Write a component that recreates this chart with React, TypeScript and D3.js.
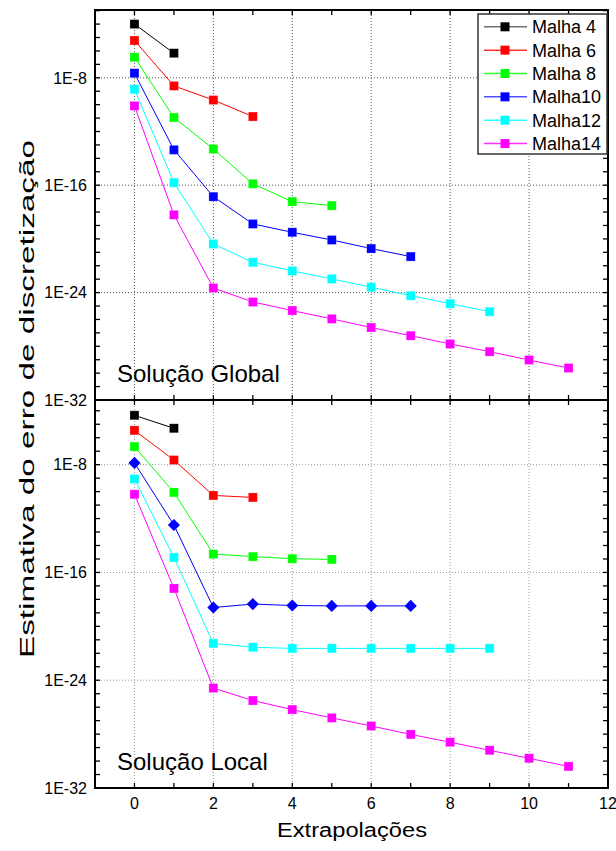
import React from 'react';
import * as d3 from 'd3';

// ---------- data ----------
const seriesNames = ['Malha 4', 'Malha 6', 'Malha 8', 'Malha10', 'Malha12', 'Malha14'];
const seriesColors = ['#000000', '#ff0000', '#00ff00', '#0000ff', '#00ffff', '#ff00ff'];
const legendLineColors = ['#707070', '#ff3030', '#30ff30', '#5050ff', '#30ffff', '#ff30ff'];

const xTickValues = [0, 2, 4, 6, 8, 10, 12];
const yLabelExponents = [-8, -16, -24, -32];

// Solução Global
const globalM4 = [1e-4, 6.8e-7];
const globalM6 = [6.0e-6, 2.5e-9, 2.2e-10, 1.3e-11];
const globalM8 = [3.4e-7, 1.1e-11, 5.0e-14, 1.26e-16, 6.0e-18, 3.0e-18];
const globalM10 = [2.2e-8, 4.3e-14, 1.4e-17, 1.3e-19, 3.1e-20, 8.3e-21, 1.9e-21, 4.8e-22];
const globalM12 = [1.4e-9, 1.55e-16, 4.2e-21, 1.8e-22, 4.1e-23, 1.05e-23, 2.5e-24, 5.9e-25, 1.5e-25, 3.8e-26];
const globalM14 = [8.1e-11, 6.2e-19, 2.2e-24, 2.0e-25, 4.6e-26, 1.1e-26, 2.5e-27, 6.2e-28, 1.5e-28, 4.0e-29, 9.5e-30, 2.4e-30];

// Solução Local
const localM4 = [4.6e-5, 5.0e-6];
const localM6 = [3.5e-6, 2.2e-8, 5.2e-11, 3.7e-11];
const localM8 = [2.2e-7, 8.7e-11, 2.3e-15, 1.5e-15, 1.05e-15, 9.3e-16];
const localM10 = [1.35e-8, 3.3e-13, 2.5e-19, 4.5e-19, 3.5e-19, 3.3e-19, 3.3e-19, 3.3e-19];
const localM12 = [8.7e-10, 1.3e-15, 5.4e-22, 2.8e-22, 2.3e-22, 2.3e-22, 2.3e-22, 2.3e-22, 2.3e-22, 2.3e-22];
const localM14 = [6.3e-11, 6.5e-18, 2.6e-25, 3.1e-26, 6.6e-27, 1.6e-27, 4.0e-28, 9.5e-29, 2.5e-29, 6.3e-30, 1.6e-30, 4.0e-31];

const globalSeries = [globalM4, globalM6, globalM8, globalM10, globalM12, globalM14];
const localSeries = [localM4, localM6, localM8, localM10, localM12, localM14];

// ---------- layout ----------
const W = 616;
const H = 851;
const FONT = "'Liberation Sans', Arial, sans-serif";
const x = d3.scaleLinear().domain([-1, 12]).range([95, 608]);

const yGlobal = d3.scaleLog().domain([1e-32, Math.pow(10, -2.95)]).range([400, 10]);
const yLocal = d3.scaleLog().domain([1e-32, Math.pow(10, -3.2)]).range([788, 400]);

type PanelProps = {
  series: number[][];
  y: d3.ScaleLogarithmic<number, number>;
  label: string;
  diamondIndex: number;
  gridColor: string;
};

function Panel({ series, y, label, diamondIndex, gridColor }: PanelProps) {
  const [y0, y1] = y.range(); // bottom, top
  const [x0, x1] = x.range();
  const decades = d3.range(-32, Math.floor(Math.log10(y.domain()[1])) + 1);
  const intTicks = d3.range(-1, 13);
  const line = d3
    .line<number>()
    .x((_, i) => x(i))
    .y((d) => y(d));
  return (
    <g>
      {/* grid */}
      {yLabelExponents
        .filter((e) => e > -32)
        .map((e) => (
          <line
            key={'hg' + e}
            x1={x0}
            x2={x1}
            y1={y(Math.pow(10, e))}
            y2={y(Math.pow(10, e))}
            stroke={gridColor}
            strokeWidth={1}
            strokeDasharray="1,2"
          />
        ))}
      {[0, 2, 4, 6, 8, 10].map((v) => (
        <line
          key={'vg' + v}
          x1={x(v)}
          x2={x(v)}
          y1={y0}
          y2={y1}
          stroke={gridColor}
          strokeWidth={1}
          strokeDasharray="1,2"
        />
      ))}
      {/* lines */}
      {series.map((s, i) => (
        <path key={'l' + i} d={line(s) || ''} fill="none" stroke={seriesColors[i]} strokeWidth={1} />
      ))}
      {/* markers */}
      {series.map((s, i) =>
        s.map((v, j) => {
          const cx = x(j);
          const cy = y(v);
          if (i === diamondIndex) {
            return (
              <rect
                key={'m' + i + '-' + j}
                x={cx - 4.3}
                y={cy - 4.3}
                width={8.6}
                height={8.6}
                fill={seriesColors[i]}
                transform={`rotate(45 ${cx} ${cy})`}
              />
            );
          }
          return (
            <rect
              key={'m' + i + '-' + j}
              x={cx - 4.5}
              y={cy - 4.5}
              width={9}
              height={9}
              fill={seriesColors[i]}
              stroke="#ffffff"
              strokeOpacity={0.4}
              strokeWidth={0.6}
            />
          );
        })
      )}
      {/* y ticks (inward, both sides) */}
      {decades.map((e) => {
        const yy = y(Math.pow(10, e));
        const len = 5;
        return (
          <g key={'yt' + e}>
            <line x1={x0} x2={x0 + len} y1={yy} y2={yy} stroke="#000" strokeWidth={1.3} />
            <line x1={x1} x2={x1 - len} y1={yy} y2={yy} stroke="#000" strokeWidth={1.3} />
          </g>
        );
      })}
      {/* x ticks (inward, top and bottom) */}
      {intTicks.map((v) => (
        <g key={'xt' + v}>
          <line x1={x(v)} x2={x(v)} y1={y1} y2={y1 + 5} stroke="#000" strokeWidth={1.3} />
          <line x1={x(v)} x2={x(v)} y1={y0} y2={y0 - 5} stroke="#000" strokeWidth={1.3} />
        </g>
      ))}
      {/* frame */}
      <rect x={x0} y={y1} width={x1 - x0} height={y0 - y1} fill="none" stroke="#000" strokeWidth={2} />
      {/* y labels */}
      {yLabelExponents.map((e) => (
        <text
          key={'yl' + e}
          x={87}
          y={y(Math.pow(10, e))}
          dy="0.36em"
          textAnchor="end"
          fontFamily={FONT}
          fontSize={16}
        >
          {`1E${e}`}
        </text>
      ))}
      <text x={117} y={y0 - 18} fontFamily={FONT} fontSize={24}>
        {label}
      </text>
    </g>
  );
}

function Legend() {
  const left = 478;
  const top = 14;
  const w = 129;
  const h = 140;
  return (
    <g>
      <rect x={left} y={top} width={w} height={h} fill="#ffffff" stroke="#333" strokeWidth={1.5} />
      {seriesNames.map((name, i) => {
        const base = 33.3 + i * 23.35;
        const cy = base - 6.5;
        return (
          <g key={'lg' + i}>
            <line x1={484} x2={527} y1={cy} y2={cy} stroke={legendLineColors[i]} strokeWidth={1.5} />
            <rect x={505 - 4.5} y={cy - 4.5} width={9} height={9} fill={seriesColors[i]} />
            <text x={532} y={base} fontFamily={FONT} fontSize={18}>
              {name}
            </text>
          </g>
        );
      })}
    </g>
  );
}

export default function App() {
  return (
    <svg
      width={W}
      height={H}
      viewBox={`0 0 ${W} ${H}`}
      style={{ position: 'absolute', left: 0, top: 0, background: '#fff' }}
    >
      <rect x={0} y={0} width={W} height={H} fill="#fff" />
      <Panel series={globalSeries} y={yGlobal} label="Solução Global" diamondIndex={-1} gridColor="#555" />
      <Panel series={localSeries} y={yLocal} label="Solução Local" diamondIndex={3} gridColor="#999" />
      {/* x tick labels */}
      {xTickValues.map((v) => (
        <text key={'xl' + v} x={x(v)} y={809} textAnchor="middle" fontFamily={FONT} fontSize={16}>
          {v}
        </text>
      ))}
      <text
        x={352}
        y={837}
        textAnchor="middle"
        fontFamily={FONT}
        fontSize={20}
        textLength={150}
        lengthAdjust="spacingAndGlyphs"
      >
        Extrapolações
      </text>
      <text
        transform="translate(34,399) rotate(-90)"
        textAnchor="middle"
        fontFamily={FONT}
        fontSize={20}
        textLength={518}
        lengthAdjust="spacingAndGlyphs"
      >
        Estimativa do erro de discretização
      </text>
      <Legend />
    </svg>
  );
}
